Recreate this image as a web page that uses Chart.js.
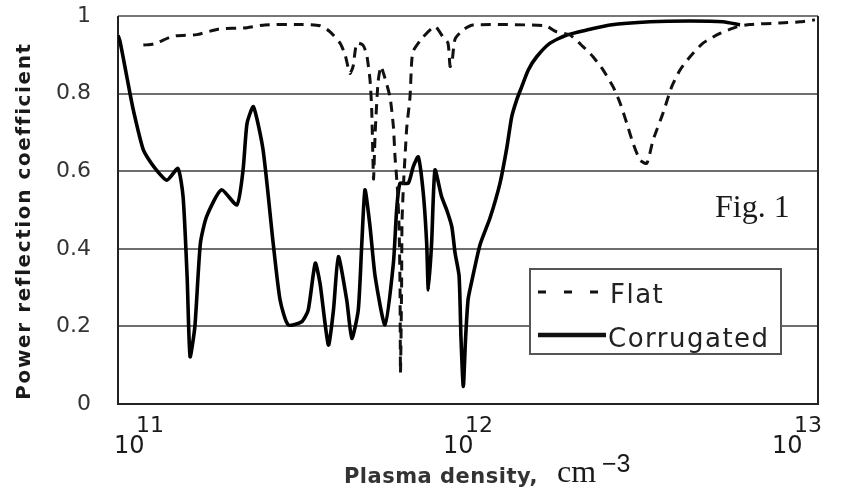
<!DOCTYPE html>
<html>
<head>
<meta charset="utf-8">
<script src="https://cdn.jsdelivr.net/npm/chart.js@4/dist/chart.umd.min.js"></script>
<style>
  html, body { margin: 0; padding: 0; background: #fff; }
  canvas { display: block; }
</style>
</head>
<body>
<canvas id="reflection" width="844" height="495"></canvas>
<script>
// plasma density (cm^-3) and power reflection coefficient
const flatDensity = [1.06e11, 1.14e11, 1.31e11, 1.54e11, 1.79e11, 2.19e11, 2.48e11, 3.24e11, 3.65e11, 3.91e11,
  4.20e11, 4.35e11, 4.50e11, 4.60e11, 4.72e11, 4.93e11, 5.06e11, 5.18e11, 5.24e11, 5.29e11, 5.31e11, 5.37e11,
  5.48e11, 5.59e11, 5.75e11, 5.96e11, 6.10e11, 6.17e11, 6.28e11, 6.35e11, 6.39e11, 6.41e11, 6.46e11, 6.48e11,
  6.55e11, 6.62e11, 6.70e11, 6.85e11, 6.93e11, 7.01e11, 7.51e11, 8.16e11, 8.63e11, 8.94e11, 9.07e11, 9.19e11,
  9.39e11, 9.93e11, 1.065e12, 1.763e12, 1.904e12, 2.100e12, 2.300e12, 2.467e12, 2.646e12, 2.837e12, 2.980e12,
  3.123e12, 3.264e12, 3.428e12, 3.593e12, 3.755e12, 4.027e12, 4.279e12, 4.535e12, 4.864e12, 5.326e12, 5.998e12,
  6.744e12, 7.400e12, 9.131e12, 1.050e13, 1.166e13];
const flatReflection = [0.925, 0.928, 0.948, 0.952, 0.966, 0.97, 0.977, 0.978, 0.975, 0.96,
  0.93, 0.90, 0.852, 0.87, 0.93, 0.925, 0.90, 0.835, 0.76, 0.62, 0.58, 0.70,
  0.83, 0.87, 0.84, 0.79, 0.715, 0.637, 0.55, 0.45, 0.30, 0.08, 0.30, 0.47,
  0.57, 0.64, 0.714, 0.79, 0.88, 0.91, 0.946, 0.973, 0.946, 0.93, 0.87, 0.88,
  0.94, 0.964, 0.977, 0.975, 0.96, 0.951, 0.921, 0.895, 0.861, 0.818, 0.776,
  0.724, 0.672, 0.629, 0.62, 0.68, 0.75, 0.818, 0.861, 0.895, 0.93, 0.955,
  0.972, 0.978, 0.982, 0.985, 0.99];

const corrDensity = [8.88e10, 9.00e10, 9.44e10, 9.88e10, 1.06e11, 1.14e11, 1.25e11, 1.35e11, 1.40e11, 1.44e11,
  1.47e11, 1.52e11, 1.58e11, 1.65e11, 1.83e11, 2.04e11, 2.13e11, 2.19e11, 2.29e11, 2.45e11, 2.63e11, 2.76e11,
  2.92e11, 3.21e11, 3.36e11, 3.53e11, 3.65e11, 3.87e11, 4.01e11, 4.15e11, 4.40e11, 4.56e11, 4.77e11, 4.89e11,
  5.00e11, 5.18e11, 5.37e11, 5.75e11, 6.10e11, 6.24e11, 6.39e11, 6.77e11, 7.01e11, 7.26e11, 7.52e11, 7.70e11,
  7.79e11, 7.97e11, 8.16e11, 8.55e11, 8.86e11, 9.18e11, 9.39e11, 9.66e11, 9.79e11, 9.95e11, 1.011e12, 1.029e12,
  1.058e12, 1.118e12, 1.200e12, 1.287e12, 1.349e12, 1.396e12, 1.446e12, 1.498e12, 1.568e12, 1.663e12, 1.826e12,
  2.052e12, 2.360e12, 2.779e12, 3.676e12, 4.864e12, 6.128e12, 6.901e12];
const corrReflection = [0.95, 0.935, 0.844, 0.758, 0.655, 0.612, 0.577, 0.607, 0.534, 0.328,
  0.122, 0.199, 0.414, 0.483, 0.552, 0.513, 0.603, 0.723, 0.766, 0.655, 0.414, 0.268,
  0.204, 0.212, 0.242, 0.363, 0.311, 0.152, 0.242, 0.380, 0.268, 0.169, 0.242, 0.414,
  0.552, 0.457, 0.328, 0.204, 0.363, 0.500, 0.569, 0.569, 0.612, 0.637, 0.543, 0.414,
  0.294, 0.414, 0.603, 0.534, 0.500, 0.457, 0.39, 0.33, 0.17, 0.045, 0.17, 0.27,
  0.32, 0.41, 0.48, 0.57, 0.66, 0.74, 0.784, 0.818, 0.861, 0.895, 0.930,
  0.951, 0.964, 0.977, 0.985, 0.987, 0.985, 0.977];

const xTickExponents = [11, 12, 13];
const yTickValues = [0, 0.2, 0.4, 0.6, 0.8, 1];
const yTickLabels = ["0", "0.2", "0.4", "0.6", "0.8", "1"];

const toPoints = (xs, ys) => xs.map((x, i) => ({ x: x, y: ys[i] }));

// texts, frame and legend drawn on the canvas
const figureParts = {
  id: "figureParts",
  beforeDatasetsDraw(chart) {
    const { ctx, chartArea: a } = chart;
    ctx.save();
    ctx.lineWidth = 2;
    ctx.strokeStyle = "#777";
    ctx.beginPath();
    ctx.moveTo(a.left, a.top);
    ctx.lineTo(a.right, a.top);
    ctx.stroke();
    ctx.strokeStyle = "#222";
    ctx.beginPath();
    ctx.moveTo(a.right, a.top);
    ctx.lineTo(a.right, a.bottom);
    ctx.lineTo(a.left, a.bottom);
    ctx.lineTo(a.left, a.top);
    ctx.stroke();
    ctx.restore();
  },
  afterDatasetsDraw(chart) {
    const { ctx } = chart;
    const xScale = chart.scales.x;
    ctx.save();
    ctx.fillStyle = "#1a1a1a";
    ctx.textBaseline = "alphabetic";

    // x tick labels 10^n
    xTickExponents.forEach((e) => {
      const px = xScale.getPixelForValue(Math.pow(10, e));
      ctx.font = "24px 'DejaVu Sans'";
      ctx.textAlign = "left";
      ctx.fillText("10", px - 21, 453);
      ctx.font = "22px 'DejaVu Sans'";
      ctx.fillText(String(e), px + 1, 432);
    });

    // x axis title
    ctx.font = "bold 21px 'DejaVu Sans'";
    ctx.letterSpacing = "0.5px";
    ctx.textAlign = "right";
    ctx.fillStyle = "#333";
    ctx.fillText("Plasma density,", 538, 483);
    ctx.textAlign = "left";
    ctx.letterSpacing = "0px";
    ctx.fillStyle = "#1a1a1a";
    ctx.font = "32px 'Liberation Serif'";
    ctx.fillText("cm", 557, 482);
    ctx.font = "25px 'Liberation Sans'";
    ctx.fillText("\u22123", 602, 472);

    // y axis title
    ctx.save();
    ctx.translate(25, 221);
    ctx.rotate(-Math.PI / 2);
    ctx.font = "bold 20px 'DejaVu Sans'";
    ctx.letterSpacing = "1.6px";
    ctx.textAlign = "center";
    ctx.textBaseline = "middle";
    ctx.fillText("Power reflection coefficient", 0, 0);
    ctx.restore();

    // Fig. 1
    ctx.font = "32px 'Liberation Serif'";
    ctx.fillText("Fig. 1", 715, 217);

    // legend box
    ctx.fillStyle = "#fff";
    ctx.fillRect(530, 269, 251, 85);
    ctx.lineWidth = 2;
    ctx.strokeStyle = "#555";
    ctx.strokeRect(530, 269, 251, 85);

    ctx.strokeStyle = "#111";
    ctx.lineWidth = 3;
    ctx.setLineDash([8, 18]);
    ctx.beginPath();
    ctx.moveTo(538, 292);
    ctx.lineTo(600, 292);
    ctx.stroke();
    ctx.setLineDash([]);
    ctx.lineWidth = 4.5;
    ctx.beginPath();
    ctx.moveTo(538, 335);
    ctx.lineTo(606, 335);
    ctx.stroke();

    ctx.fillStyle = "#222";
    ctx.font = "26px 'DejaVu Sans'";
    ctx.letterSpacing = "1.5px";
    ctx.fillText("Flat", 610, 303);
    ctx.fillText("Corrugated", 608, 347);
    ctx.restore();
  },
};

document.addEventListener("DOMContentLoaded", () => {
  const canvas = document.getElementById("reflection");

  new Chart(canvas.getContext("2d"), {
    type: "line",
    data: {
      datasets: [
        {
          label: "Flat",
          data: toPoints(flatDensity, flatReflection),
          borderColor: "#111",
          borderWidth: 3,
          borderDash: [10, 7],
          pointRadius: 0,
          tension: 0.2,
          fill: false,
        },
        {
          label: "Corrugated",
          data: toPoints(corrDensity, corrReflection),
          borderColor: "#000",
          borderWidth: 3.6,
          pointRadius: 0,
          tension: 0.2,
          fill: false,
        },
      ],
    },
    options: {
      responsive: false,
      animation: false,
      devicePixelRatio: 1,
      layout: { padding: { top: 16, right: 26, left: 0, bottom: 0 } },
      plugins: {
        legend: { display: false },
        tooltip: { enabled: false },
      },
      scales: {
        x: {
          type: "logarithmic",
          min: 8.877e10,
          max: 1.191e13,
          grid: { display: false },
          border: { display: false },
          ticks: { display: false },
          afterFit: (scale) => {
            scale.height = 91;
            scale.paddingLeft = 0;
            scale.paddingRight = 0;
          },
        },
        y: {
          min: 0,
          max: 1,
          afterBuildTicks: (scale) => {
            scale.ticks = yTickValues.map((v) => ({ value: v }));
          },
          grid: {
            drawTicks: false,
            lineWidth: 2,
            color: (c) => (c.tick && (c.tick.value === 0 || c.tick.value === 1) ? "rgba(0,0,0,0)" : "#6e6e6e"),
          },
          border: { display: false },
          ticks: {
            padding: 27,
            color: "#333",
            font: { family: "'DejaVu Sans'", size: 22 },
            callback: (v, i) => yTickLabels[i],
          },
          afterFit: (scale) => {
            scale.width = 118;
            scale.paddingTop = 0;
            scale.paddingBottom = 0;
          },
        },
      },
    },
    plugins: [figureParts],
  });
});
</script>
</body>
</html>
